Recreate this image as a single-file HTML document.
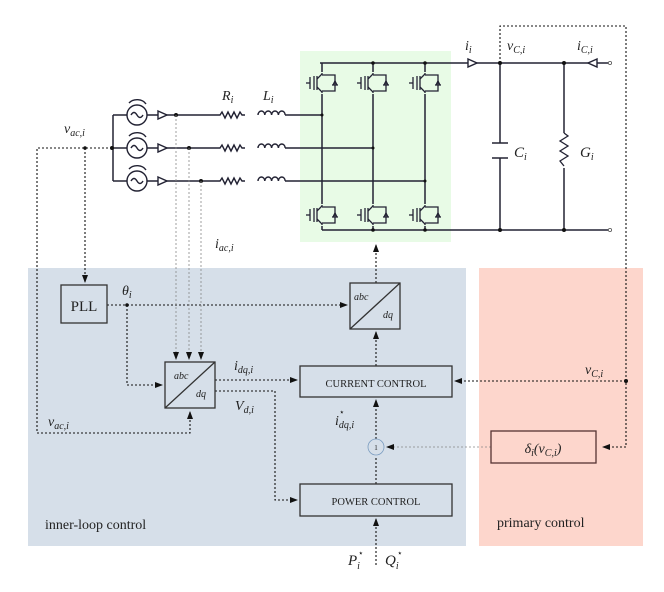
<!DOCTYPE html>
<html><head><meta charset="utf-8"><style>
body{margin:0;background:#fff;width:664px;height:592px;overflow:hidden}
svg{display:block}
text{font-family:"Liberation Serif",serif;fill:#222}
.it{font-style:italic}
</style></head><body>
<svg width="664" height="592" viewBox="0 0 664 592" xmlns="http://www.w3.org/2000/svg">
<defs>
<marker id="a" markerWidth="8" markerHeight="8" refX="7" refY="4" orient="auto" markerUnits="userSpaceOnUse"><path d="M0,1 L8,4 L0,7 z" fill="#111"/></marker>
<g id="igbt" stroke="#223" stroke-width="1.3" fill="none">
<line x1="-12" y1="-6" x2="-12" y2="6"/><line x1="-8" y1="-7" x2="-8" y2="7"/><line x1="-5" y1="-7" x2="-5" y2="7"/>
<line x1="-16" y1="0" x2="-12" y2="0"/>
<path d="M-5,-4 L0,-9 L0,-10"/><path d="M-5,4 L0,9 L0,10"/>
<path d="M0,-8 L13,-8 L13,8 L0,8"/>
<path d="M10,2 L16,2 M11,2 L13,-2 L15,2"/>
</g>
</defs>
<rect x="300" y="51" width="151" height="191" fill="#e8fbe6"/>
<rect x="28" y="268" width="438" height="278" fill="#d6dfe9"/>
<rect x="479" y="268" width="164" height="278" fill="#fdd6cc"/>

<g stroke="#223" stroke-width="1.5" fill="none">
<line x1="320" y1="63" x2="608" y2="63"/>
<line x1="322" y1="230" x2="608" y2="230"/>
<line x1="322" y1="63" x2="322" y2="230"/>
<line x1="373" y1="63" x2="373" y2="230"/>
<line x1="425" y1="63" x2="425" y2="230"/>
<line x1="113" y1="115" x2="113" y2="181"/>
<line x1="113" y1="115" x2="127" y2="115"/><line x1="113" y1="148" x2="127" y2="148"/><line x1="113" y1="181" x2="127" y2="181"/>
<line x1="147" y1="115" x2="217" y2="115"/><line x1="147" y1="148" x2="217" y2="148"/><line x1="147" y1="181" x2="217" y2="181"/>
<line x1="285" y1="115" x2="322" y2="115"/><line x1="285" y1="148" x2="373" y2="148"/><line x1="285" y1="181" x2="425" y2="181"/>
<line x1="500" y1="63" x2="500" y2="143"/><line x1="500" y1="158" x2="500" y2="230"/>
<line x1="492" y1="143" x2="508" y2="143"/><line x1="492" y1="158" x2="508" y2="158"/>
<line x1="564" y1="63" x2="564" y2="133"/><line x1="564" y1="168" x2="564" y2="230"/>
<path d="M564,133 l4,3 l-8,5 l8,5 l-8,5 l8,5 l-8,5 l4,5" stroke-width="1.3"/>
</g>
<g>
<rect x="306" y="72" width="35" height="22" fill="#e8fbe6"/><rect x="357" y="72" width="35" height="22" fill="#e8fbe6"/><rect x="409" y="72" width="35" height="22" fill="#e8fbe6"/>
<rect x="306" y="204" width="35" height="22" fill="#e8fbe6"/><rect x="357" y="204" width="35" height="22" fill="#e8fbe6"/><rect x="409" y="204" width="35" height="22" fill="#e8fbe6"/>
<use href="#igbt" x="322" y="83"/><use href="#igbt" x="373" y="83"/><use href="#igbt" x="425" y="83"/>
<use href="#igbt" x="322" y="215"/><use href="#igbt" x="373" y="215"/><use href="#igbt" x="425" y="215"/>
</g>
<g stroke="#223" stroke-width="1.4" fill="none">
<path d="M217,115 l3,0 l2,-3 l3,6 l3,-6 l3,6 l3,-6 l3,6 l3,-6 l2,3 l3,0"/>
<path d="M217,148 l3,0 l2,-3 l3,6 l3,-6 l3,6 l3,-6 l3,6 l3,-6 l2,3 l3,0"/>
<path d="M217,181 l3,0 l2,-3 l3,6 l3,-6 l3,6 l3,-6 l3,6 l3,-6 l2,3 l3,0"/>
<path d="M258,115 a3.4,4 0 0 1 6.8,0 a3.4,4 0 0 1 6.8,0 a3.4,4 0 0 1 6.8,0 a3.4,4 0 0 1 6.8,0"/>
<path d="M258,148 a3.4,4 0 0 1 6.8,0 a3.4,4 0 0 1 6.8,0 a3.4,4 0 0 1 6.8,0 a3.4,4 0 0 1 6.8,0"/>
<path d="M258,181 a3.4,4 0 0 1 6.8,0 a3.4,4 0 0 1 6.8,0 a3.4,4 0 0 1 6.8,0 a3.4,4 0 0 1 6.8,0"/>
<circle cx="137" cy="115" r="10" fill="#fff"/><circle cx="137" cy="148" r="10" fill="#fff"/><circle cx="137" cy="181" r="10" fill="#fff"/>
<path d="M131,115 q3,-5 6,0 t6,0"/><path d="M131,148 q3,-5 6,0 t6,0"/><path d="M131,181 q3,-5 6,0 t6,0"/>
<path d="M129,103 a10,8 0 0 1 17,1"/><path d="M129,136 a10,8 0 0 1 17,1"/><path d="M129,169 a10,8 0 0 1 17,1"/>
<path d="M158,111 l9,4 l-9,4 z" fill="#fff"/><path d="M158,144 l9,4 l-9,4 z" fill="#fff"/><path d="M158,177 l9,4 l-9,4 z" fill="#fff"/>
<path d="M468,59 l9,4 l-9,4 z" fill="#fff"/><path d="M597,59 l-9,4 l9,4 z" fill="#fff"/>
</g>
<g fill="#fff" stroke="#555" stroke-width="0.8"><circle cx="610" cy="63" r="1.6"/><circle cx="610" cy="230" r="1.6"/></g>
<g fill="#111">
<circle cx="176" cy="115" r="2"/><circle cx="189" cy="148" r="2"/><circle cx="201" cy="181" r="2"/><circle cx="112" cy="148" r="2"/><circle cx="85" cy="148" r="1.8"/>
<circle cx="322" cy="115" r="1.5"/><circle cx="373" cy="148" r="1.5"/><circle cx="425" cy="181" r="1.5"/>
<circle cx="373" cy="63" r="1.8"/><circle cx="425" cy="63" r="1.8"/><circle cx="373" cy="230" r="1.8"/><circle cx="425" cy="230" r="1.8"/>
<circle cx="500" cy="63" r="2"/><circle cx="564" cy="63" r="2"/><circle cx="500" cy="230" r="2"/><circle cx="564" cy="230" r="2"/>
<circle cx="127" cy="305" r="1.8"/><circle cx="626" cy="381" r="2"/>
</g>

<g stroke="#111" stroke-width="1.1" stroke-dasharray="2,2" fill="none">
<path d="M500,63 V26 H626 V447 H603" marker-end="url(#a)"/>
<path d="M626,381 H455" marker-end="url(#a)"/>
<path d="M112,148 H37 V433 H190 V412" marker-end="url(#a)"/>
<path d="M85,148 V282" marker-end="url(#a)"/>
<path d="M107,305 H347" marker-end="url(#a)"/>
<path d="M127,305 V385 H162" marker-end="url(#a)"/>
<path d="M376,283 V245" marker-end="url(#a)"/>
<path d="M376,366 V332" marker-end="url(#a)"/>
<path d="M215,380 H297" marker-end="url(#a)"/>
<path d="M215,391 H275 V500 H297" marker-end="url(#a)"/>
<path d="M376,484 V456"/>
<path d="M376,439 V400" marker-end="url(#a)"/>
<path d="M376,565 V519" marker-end="url(#a)"/>
</g>
<g stroke="#888" stroke-width="0.8" stroke-dasharray="2,2" fill="none">
<path d="M176,115 V359" marker-end="url(#a)"/>
<path d="M189,148 V359" marker-end="url(#a)"/>
<path d="M201,181 V359" marker-end="url(#a)"/>
<path d="M491,447 H387" marker-end="url(#a)"/>
</g>

<g stroke="#333" stroke-width="1.3" fill="none">
<rect x="61" y="285" width="46" height="38"/>
<rect x="350" y="283" width="50" height="46"/><line x1="350" y1="329" x2="400" y2="283"/>
<rect x="165" y="362" width="50" height="46"/><line x1="165" y1="408" x2="215" y2="362"/>
<rect x="300" y="366" width="152" height="31"/>
<rect x="300" y="484" width="152" height="32"/>
<rect x="491" y="431" width="105" height="32" stroke="#533"/>
</g>
<circle cx="376" cy="447" r="8" fill="none" stroke="#7a9cc0" stroke-width="0.8"/>
<text x="376" y="450" font-size="7" text-anchor="middle" fill="#7a9cc0">1</text>

<text x="84" y="311" font-size="15" text-anchor="middle">PLL</text>
<text x="376" y="387" font-size="10.5" text-anchor="middle" fill="#2a3a55">CURRENT CONTROL</text>
<text x="376" y="505" font-size="10.5" text-anchor="middle">POWER CONTROL</text>
<text x="354" y="300" font-size="10" class="it">abc</text><text x="383" y="318" font-size="10" class="it">dq</text>
<text x="174" y="379" font-size="10" class="it">abc</text><text x="196" y="397" font-size="10" class="it">dq</text>
<text x="543" y="453" font-size="14" text-anchor="middle" class="it">δ<tspan font-size="10" dy="3">i</tspan><tspan dy="-3">(v</tspan><tspan font-size="10" dy="3">C,i</tspan><tspan dy="-3">)</tspan></text>
<text x="122" y="295" font-size="14" class="it">θ<tspan font-size="10" dy="3">i</tspan></text>
<text x="234" y="370" font-size="14" class="it">i<tspan font-size="10" dy="3">dq,i</tspan></text>
<text x="235" y="410" font-size="14" class="it">V<tspan font-size="10" dy="3">d,i</tspan></text>
<text x="335" y="425" font-size="14" class="it">i<tspan font-size="10" dy="3">dq,i</tspan></text><text x="339" y="415" font-size="9">⋆</text>
<text x="48" y="426" font-size="14" class="it">v<tspan font-size="10" dy="3">ac,i</tspan></text>
<text x="64" y="133" font-size="14" class="it">v<tspan font-size="10" dy="3">ac,i</tspan></text>
<text x="215" y="248" font-size="14" class="it">i<tspan font-size="10" dy="3">ac,i</tspan></text>
<text x="222" y="100" font-size="14" class="it">R<tspan font-size="10" dy="3">i</tspan></text>
<text x="263" y="100" font-size="14" class="it">L<tspan font-size="10" dy="3">i</tspan></text>
<text x="465" y="50" font-size="14" class="it">i<tspan font-size="10" dy="3">i</tspan></text>
<text x="507" y="50" font-size="14" class="it">v<tspan font-size="10" dy="3">C,i</tspan></text>
<text x="577" y="50" font-size="14" class="it">i<tspan font-size="10" dy="3">C,i</tspan></text>
<text x="514" y="157" font-size="15" class="it">C<tspan font-size="10" dy="3">i</tspan></text>
<text x="580" y="157" font-size="15" class="it">G<tspan font-size="10" dy="3">i</tspan></text>
<text x="585" y="374" font-size="14" class="it">v<tspan font-size="10" dy="3">C,i</tspan></text>
<text x="348" y="565" font-size="15" class="it">P<tspan font-size="10" dy="4">i</tspan></text><text x="358" y="556" font-size="9">⋆</text>
<text x="385" y="565" font-size="15" class="it">Q<tspan font-size="10" dy="4">i</tspan></text><text x="397" y="556" font-size="9">⋆</text>
<text x="45" y="529" font-size="14">inner-loop  control</text>
<text x="497" y="527" font-size="14">primary control</text>
</svg>
</body></html>
